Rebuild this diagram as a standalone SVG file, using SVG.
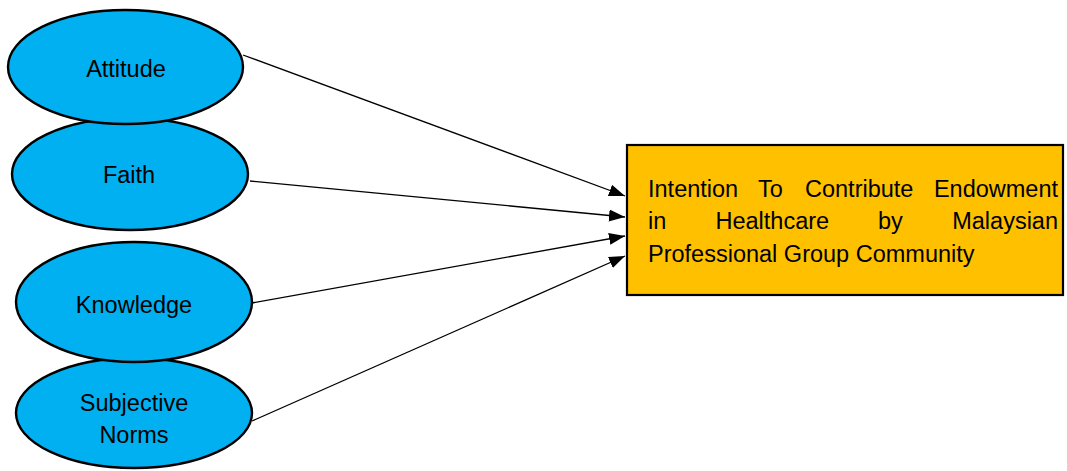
<svg xmlns="http://www.w3.org/2000/svg" width="1067" height="471" viewBox="0 0 1067 471">
<defs>
<style>
.node ellipse{fill:#00B0F0;stroke:#000;stroke-width:2.4}
.box rect{fill:#FFC000;stroke:#000;stroke-width:2.2}
text{font-family:"Liberation Sans",Arial,sans-serif;font-size:23.5px;fill:#000}
.c{text-anchor:middle}
#connectors line{stroke:#000;stroke-width:1.3;marker-end:url(#ah)}
</style>
<marker id="ah" markerUnits="userSpaceOnUse" markerWidth="17" markerHeight="13" refX="16" refY="6" orient="auto">
<path d="M0,0 L16,6 L0,12 z" fill="#000"/>
</marker>
</defs>
<rect width="1067" height="471" fill="#fff"/>
<g id="faith" class="node">
<ellipse cx="130" cy="174" rx="118" ry="56"/>
<text class="c" x="129" y="183">Faith</text>
</g>
<g id="attitude" class="node">
<ellipse cx="125.5" cy="67" rx="117.5" ry="57"/>
<text class="c" x="126" y="77">Attitude</text>
</g>
<g id="subjective-norms" class="node">
<ellipse cx="134" cy="413" rx="118" ry="55"/>
<text class="c" x="134" y="411">Subjective</text>
<text class="c" x="134" y="443">Norms</text>
</g>
<g id="knowledge" class="node">
<ellipse cx="134" cy="302" rx="118" ry="60"/>
<text class="c" x="134" y="313">Knowledge</text>
</g>
<g id="intention" class="box">
<rect x="627" y="145" width="436" height="150"/>
<text y="197"><tspan x="648">Intention</tspan><tspan x="758">To</tspan><tspan x="805">Contribute</tspan><tspan x="1058" text-anchor="end">Endowment</tspan></text>
<text y="229"><tspan x="648">in</tspan><tspan x="715.5">Healthcare</tspan><tspan x="878">by</tspan><tspan x="1058" text-anchor="end">Malaysian</tspan></text>
<text x="648" y="262">Professional Group Community</text>
</g>
<g id="connectors">
<line x1="243" y1="55" x2="625" y2="196"/>
<line x1="250" y1="181" x2="625" y2="217"/>
<line x1="252" y1="303" x2="625" y2="236"/>
<line x1="252" y1="421" x2="625" y2="256"/>
</g>
</svg>
